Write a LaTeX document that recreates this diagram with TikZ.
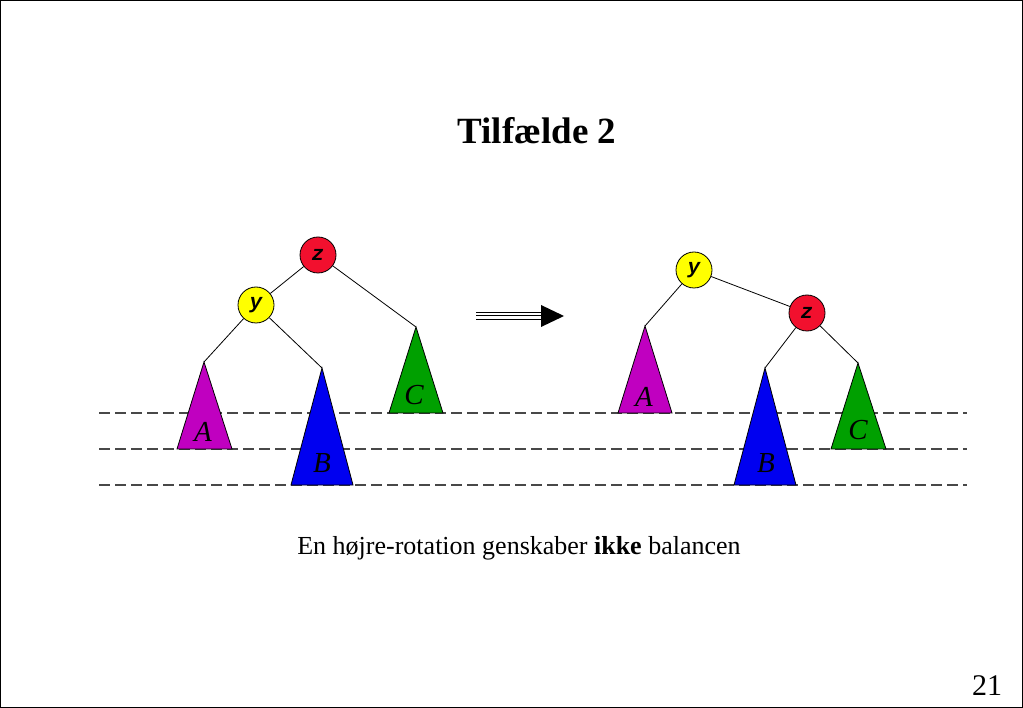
\documentclass[tikz,border=0pt]{standalone}
\usepackage{fontspec}
\setmainfont{Liberation Serif}
\setmonofont{Liberation Mono}
\usepackage{xcolor}
\definecolor{nodeRed}{HTML}{F2102E}
\definecolor{nodeYellow}{HTML}{FFFF00}
\definecolor{treeMagenta}{HTML}{C000C0}
\definecolor{treeBlue}{HTML}{0000F0}
\definecolor{treeGreen}{HTML}{00A000}
\definecolor{lineGray}{HTML}{484848}
\usetikzlibrary{arrows.meta,positioning,calc}
\tikzset{
    keynode/.style={
        draw=black,
        circle,
        minimum size=36pt,
        inner sep=0pt,
        line width=0.8pt,
        font=\fontsize{21}{21}\selectfont\ttfamily\bfseries\itshape
    },
    subtree/.style={
        draw=black,
        line width=0.8pt
    },
    treelabel/.style={
        font=\fontsize{29}{29}\selectfont\itshape,
        inner sep=0pt
    },
    edge/.style={
        line width=0.8pt,
        color=black
    },
    level/.style={
        dashed,
        dash pattern=on 11pt off 5pt,
        line width=1.1pt,
        color=lineGray
    }
}

\begin{document}
\begin{tikzpicture}[x=1pt,y=-1pt]
    \useasboundingbox (0,0) rectangle (1023,708);
    \draw[line width=1pt] (0.5,0.5) rectangle (1022.5,707.5);

    % Title
    \node[font=\fontsize{37}{37}\selectfont\bfseries] (title) at (537,131) {Tilfælde 2};

    % Height levels
    \draw[level] (99,413) -- (967,413);
    \draw[level] (99,449) -- (967,449);
    \draw[level] (99,485) -- (967,485);

    % Left tree
    \coordinate (lA) at (204,362);
    \coordinate (lB) at (322,368);
    \coordinate (lC) at (416,327);
    \draw[subtree, fill=treeMagenta] (lA) -- ++(-27,87) -- ++(55,0) -- cycle;
    \draw[subtree, fill=treeBlue] (lB) -- ++(-31,117) -- ++(62,0) -- cycle;
    \draw[subtree, fill=treeGreen] (lC) -- ++(-27,86) -- ++(54,0) -- cycle;
    \node[treelabel] (lAlab) at (203,432) {A};
    \node[treelabel] (lBlab) at (322,463) {B};
    \node[treelabel] (lClab) at (414,395) {C};

    \node[keynode, fill=nodeRed] (lz) at (318,255) {z};
    \node[keynode, fill=nodeYellow] (ly) at (256,305) {y};

    \draw[edge] (lz) -- (ly);
    \draw[edge] (lz) -- (lC);
    \draw[edge] (ly) -- (lA);
    \draw[edge] (ly) -- (lB);

    % Rotation arrow
    \coordinate (arrS) at (476,316);
    \coordinate (arrE) at (541,316);
    \coordinate (arrT) at (564,316);
    \draw[line width=1pt] ($(arrS)+(0,-3.5)$) -- ($(arrE)+(0,-3.5)$);
    \draw[line width=1pt] (arrS) -- (arrE);
    \draw[line width=1pt] ($(arrS)+(0,3.5)$) -- ($(arrE)+(0,3.5)$);
    \fill (arrT) -- ($(arrE)+(0,-11)$) -- ($(arrE)+(0,11)$) -- cycle;

    % Right tree
    \coordinate (rA) at (645,326);
    \coordinate (rB) at (765,368);
    \coordinate (rC) at (858,363);
    \draw[subtree, fill=treeMagenta] (rA) -- ++(-27,87) -- ++(54,0) -- cycle;
    \draw[subtree, fill=treeBlue] (rB) -- ++(-31,117) -- ++(62,0) -- cycle;
    \draw[subtree, fill=treeGreen] (rC) -- ++(-27,86) -- ++(55,0) -- cycle;
    \node[treelabel] (rAlab) at (644,397) {A};
    \node[treelabel] (rBlab) at (766,463) {B};
    \node[treelabel] (rClab) at (858,430) {C};

    \node[keynode, fill=nodeYellow] (ry) at (694,270) {y};
    \node[keynode, fill=nodeRed] (rz) at (807,313) {z};

    \draw[edge] (ry) -- (rA);
    \draw[edge] (ry) -- (rz);
    \draw[edge] (rz) -- (rB);
    \draw[edge] (rz) -- (rC);

    % Caption and page number
    \node[font=\fontsize{26}{26}\selectfont] (caption) at (519,548)
        {En højre-rotation genskaber \textbf{ikke} balancen};
    \node[font=\fontsize{30}{30}\selectfont] (pageno) at (987,686) {21};
\end{tikzpicture}
\end{document}
